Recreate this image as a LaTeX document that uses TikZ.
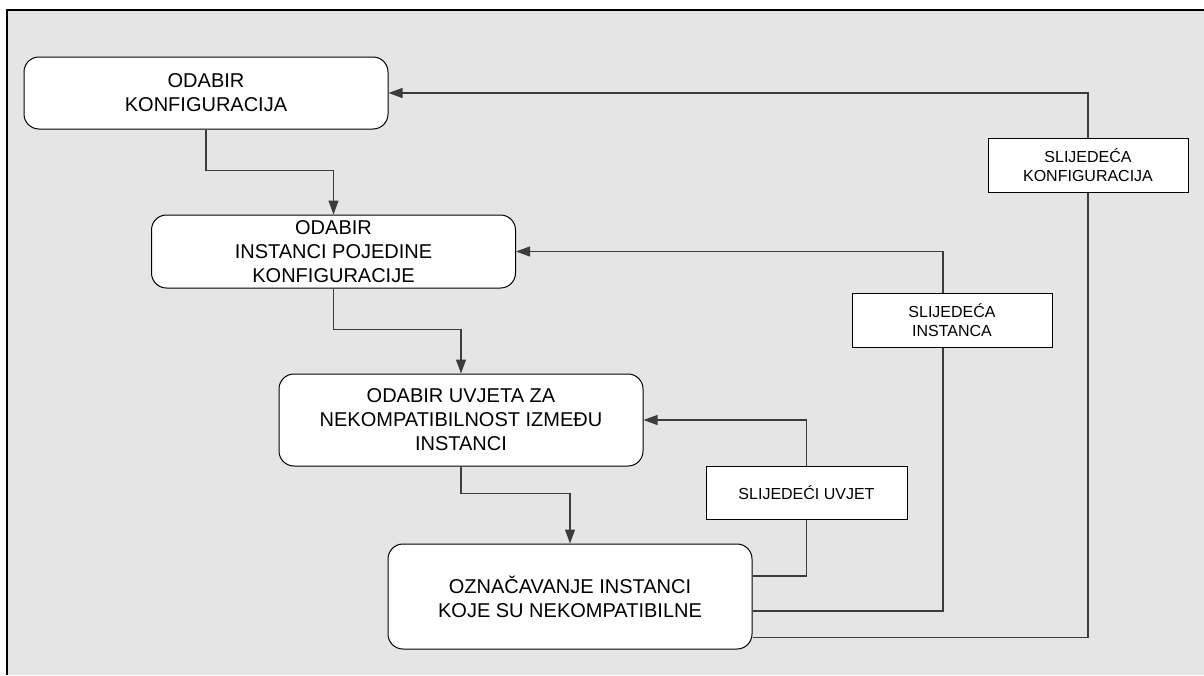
\documentclass[tikz,border=0pt]{standalone}
\usepackage{fontspec}
\setmainfont{Liberation Sans}
\usetikzlibrary{arrows.meta}

\definecolor{panelgray}{HTML}{E5E5E5}
\definecolor{linegray}{HTML}{3C3C3C}

\tikzset{
  stage/.style={draw=black, fill=white, rounded corners=15pt, line width=1pt,
    minimum width=364pt, align=center, inner sep=0pt,
    font=\fontsize{20}{24}\selectfont},
  note/.style={draw=black, fill=white, line width=1pt, minimum width=200pt,
    minimum height=54pt, align=center, inner sep=0pt,
    font=\fontsize{16}{18.3}\selectfont},
  link/.style={draw=linegray, line width=1.1pt},
  flow/.style={link, -{Triangle[length=14pt,width=10pt]}}
}

\begin{document}
\begin{tikzpicture}[x=1pt,y=-1pt]
\useasboundingbox (0,0) rectangle (1204,675);

% Panel
\fill[white] (0,0) rectangle (1204,675);
\fill[panelgray] (7,10) rectangle (1204,675);
\draw[line width=1.5pt] (7,675) -- (7,10) -- (1204,10);

% Steps
\node[stage, minimum height=72pt] (konf) at (206,93) {ODABIR\\KONFIGURACIJA};
\node[stage, minimum height=73pt] (inst) at (333.5,251.5) {ODABIR\\INSTANCI POJEDINE\\KONFIGURACIJE};
\node[stage, minimum height=92pt] (uvjet) at (461,420) {ODABIR UVJETA ZA\\NEKOMPATIBILNOST IZMEĐU\\INSTANCI};
\node[stage, minimum height=105pt] (oznaka) at (570,596.5) {OZNAČAVANJE INSTANCI\\KOJE SU NEKOMPATIBILNE};

% Loop labels
\node[note, minimum width=201pt, minimum height=53pt] (nextUvjet) at (806.5,492.5) {SLIJEDEĆI UVJET};
\node[note] (nextInst) at (952,320) {SLIJEDEĆA\\INSTANCA};
\node[note] (nextKonf) at (1088,165) {SLIJEDEĆA\\KONFIGURACIJA};

% Main flow
\draw[flow] (konf.south) -- ++(0,41) -| (inst.north);
\draw[flow] (inst.south) -- ++(0,41) -| (uvjet.north);
\draw[flow] (uvjet.south) -- ++(0,27) -| (oznaka.north);

% Loops back
\draw[link] ([yshift=20.5pt]oznaka.east) -| (nextUvjet.south);
\draw[flow] (nextUvjet.north) |- (uvjet.east);
\draw[link] ([yshift=-14.5pt]oznaka.east) -| ([xshift=-9pt]nextInst.south);
\draw[flow] ([xshift=-9pt]nextInst.north) |- (inst.east);
\draw[link] ([yshift=-41pt]oznaka.east) -| (nextKonf.south);
\draw[flow] (nextKonf.north) |- (konf.east);

\end{tikzpicture}
\end{document}
